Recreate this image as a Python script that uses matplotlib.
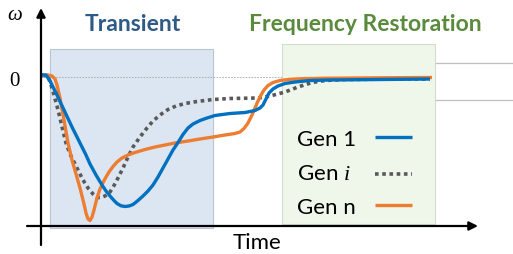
import matplotlib
matplotlib.use("Agg")
import matplotlib.pyplot as plt
from matplotlib.patches import Rectangle

plt.rcParams['font.family'] = ['Lato', 'DejaVu Sans']
plt.rcParams['mathtext.fontset'] = 'custom'
plt.rcParams['mathtext.it'] = 'Liberation Serif:italic'
plt.rcParams['mathtext.rm'] = 'Lato'

# ---- data (time in arbitrary units, frequency deviation in arbitrary units) ----
gen1_t = [0.1, 0.5, 0.7, 0.9, 1.5, 2.3, 3.1, 3.9, 4.5, 4.9, 5.5, 6.1, 6.5, 6.9, 7.3, 7.6, 8.0, 8.4,
          8.8, 9.2, 9.7, 10.2, 10.7, 11.2, 11.7, 12.2, 12.7, 13.2, 13.7, 14.2, 14.7, 15.2, 15.9,
          16.6, 17.4, 18.9, 20.4, 21.4, 21.9, 22.2, 22.5, 22.8, 23.2, 23.7, 24.4, 25.4, 26.9,
          28.9, 33.9, 38.9]
gen1_w = [0.02, 0.02, -0.01, -0.04, -0.16, -0.33, -0.50, -0.66, -0.78, -0.87, -0.98, -1.08, -1.14,
          -1.19, -1.235, -1.265, -1.288, -1.295, -1.29, -1.275, -1.235, -1.19, -1.14, -1.08, -1.00,
          -0.91, -0.82, -0.73, -0.655, -0.575, -0.51, -0.47, -0.435, -0.41, -0.385, -0.365, -0.355,
          -0.335, -0.31, -0.28, -0.22, -0.16, -0.12, -0.09, -0.065, -0.05, -0.035, -0.03, -0.025,
          -0.02]

geni_t = [0.1, 0.5, 0.8, 1.0, 1.3, 1.6, 1.9, 2.2, 2.5, 2.9, 3.3, 3.7, 4.2, 4.7, 5.2, 5.6, 6.0, 6.4,
          6.9, 7.3, 7.7, 8.2, 8.7, 9.2, 9.9, 10.6, 11.2, 11.9, 12.7, 13.5, 14.4, 15.6, 17.2, 18.9,
          21.7, 22.4, 23.1, 24.4, 25.7, 27.1, 28.4, 30.4, 35.9, 38.9]
geni_w = [0.02, 0.01, -0.02, -0.08, -0.18, -0.29, -0.41, -0.54, -0.66, -0.77, -0.85, -0.93, -1.03,
          -1.11, -1.17, -1.205, -1.205, -1.19, -1.15, -1.085, -1.01, -0.91, -0.80, -0.70, -0.60,
          -0.51, -0.44, -0.38, -0.325, -0.29, -0.265, -0.245, -0.225, -0.215, -0.21, -0.20, -0.185,
          -0.15, -0.10, -0.055, -0.035, -0.025, -0.02, -0.02]

genn_t = [0.1, 0.7, 1.1, 1.4, 1.6, 1.9, 2.3, 2.7, 3.1, 3.5, 3.9, 4.3, 4.5, 4.7, 4.9, 5.1, 5.3, 5.6,
          5.9, 6.2, 6.5, 6.8, 7.2, 7.6, 8.1, 8.7, 9.4, 10.4, 11.4, 12.4, 13.4, 14.7, 15.9, 17.2,
          18.4, 19.4, 19.9, 20.3, 20.7, 21.1, 21.4, 21.7, 22.0, 22.3, 22.7, 23.2, 23.9, 24.9, 26.4,
          28.9, 33.9, 39.1]
genn_w = [0.02, 0.02, 0.01, -0.02, -0.08, -0.21, -0.43, -0.66, -0.83, -0.97, -1.11, -1.27, -1.36,
          -1.42, -1.435, -1.40, -1.33, -1.21, -1.12, -1.055, -1.00, -0.95, -0.895, -0.85, -0.81,
          -0.78, -0.755, -0.725, -0.70, -0.68, -0.66, -0.64, -0.62, -0.60, -0.58, -0.565, -0.55,
          -0.515, -0.46, -0.38, -0.31, -0.24, -0.18, -0.13, -0.085, -0.055, -0.035, -0.023,
          -0.016, -0.012, -0.008, -0.005]

labels = ["Gen 1", "Gen $i$", "Gen n"]
phase_labels = ["Transient", "Frequency Restoration"]

# ---- styles ----
styles = [
    dict(color="#0070c0", lw=2.4, solid_capstyle="butt", solid_joinstyle="round", zorder=6),
    dict(color="#595959", lw=2.6, linestyle=(0, (1, 1)), dash_capstyle="butt", zorder=4),
    dict(color="#ed7d31", lw=2.4, solid_capstyle="butt", solid_joinstyle="round", zorder=5),
]
series = [(gen1_t, gen1_w), (geni_t, geni_w), (genn_t, genn_w)]

fig = plt.figure(figsize=(5.13, 2.54), dpi=100)
ax = fig.add_axes([0, 0, 1, 1])
ax.set_xlim(-4.1, 47.2)
ax.set_ylim(-1.77, 0.77)
ax.axis("off")

# phase regions
ax.add_patch(Rectangle((0.9, -1.51), 16.3, 1.79, facecolor="#dce6f2", edgecolor="#b9c5d3",
                       lw=0.8, zorder=1))
ax.add_patch(Rectangle((24.1, -1.47), 15.3, 1.80, facecolor="#eff6ea", edgecolor="#d3dccd",
                       lw=0.8, zorder=3))

# zero reference line
ax.plot([0, 39.4], [0, 0], color="#a6a6a6", lw=0.6, linestyle=(0, (2, 1.5)), zorder=2)
# right-side guide lines
ax.plot([39.4, 47.2], [0.14, 0.14], color="#bfbfbf", lw=0.9, zorder=2)
ax.plot([39.4, 47.2], [-0.23, -0.23], color="#bfbfbf", lw=0.9, zorder=2)

# curves
for (t, w), st in zip(series, styles):
    ax.plot(t, w, **st)

# axes with arrows
arrow = dict(arrowstyle="-|>", color="black", lw=1.6, mutation_scale=13, shrinkA=0, shrinkB=0)
ax.annotate("", xy=(0, 0.69), xytext=(0, -1.68), arrowprops=arrow, zorder=8)
ax.annotate("", xy=(43.7, -1.49), xytext=(-1.4, -1.49), arrowprops=arrow, zorder=8)

# axis labels
ax.text(-2.6, 0.62, "ω", family="Liberation Serif", style="italic", fontsize=15,
        ha="center", va="center")
ax.text(-2.7, -0.04, "0", family="Liberation Serif", fontsize=15, ha="center", va="center")
ax.text(21.6, -1.765, "Time", fontsize=16, ha="center", va="bottom")

# phase titles
ax.text(9.2, 0.46, phase_labels[0], fontsize=16.5, fontweight="bold", color="#2e5a88",
        ha="center", va="baseline")
ax.text(32.45, 0.46, phase_labels[1], fontsize=16.5, fontweight="bold", color="#5a8a3c",
        ha="center", va="baseline")

# legend (label first, sample line after)
leg_y_text = [-0.69, -1.03, -1.37]
leg_y_line = [-0.60, -0.97, -1.285]
for lab, yt, yl, st in zip(labels, leg_y_text, leg_y_line, styles):
    ax.text(25.6, yt, lab, fontsize=16, ha="left", va="baseline", zorder=7)
    s = dict(st)
    s["zorder"] = 7
    ax.plot([33.4, 37.1], [yl, yl], **s)

fig.savefig("out.png", dpi=100)
